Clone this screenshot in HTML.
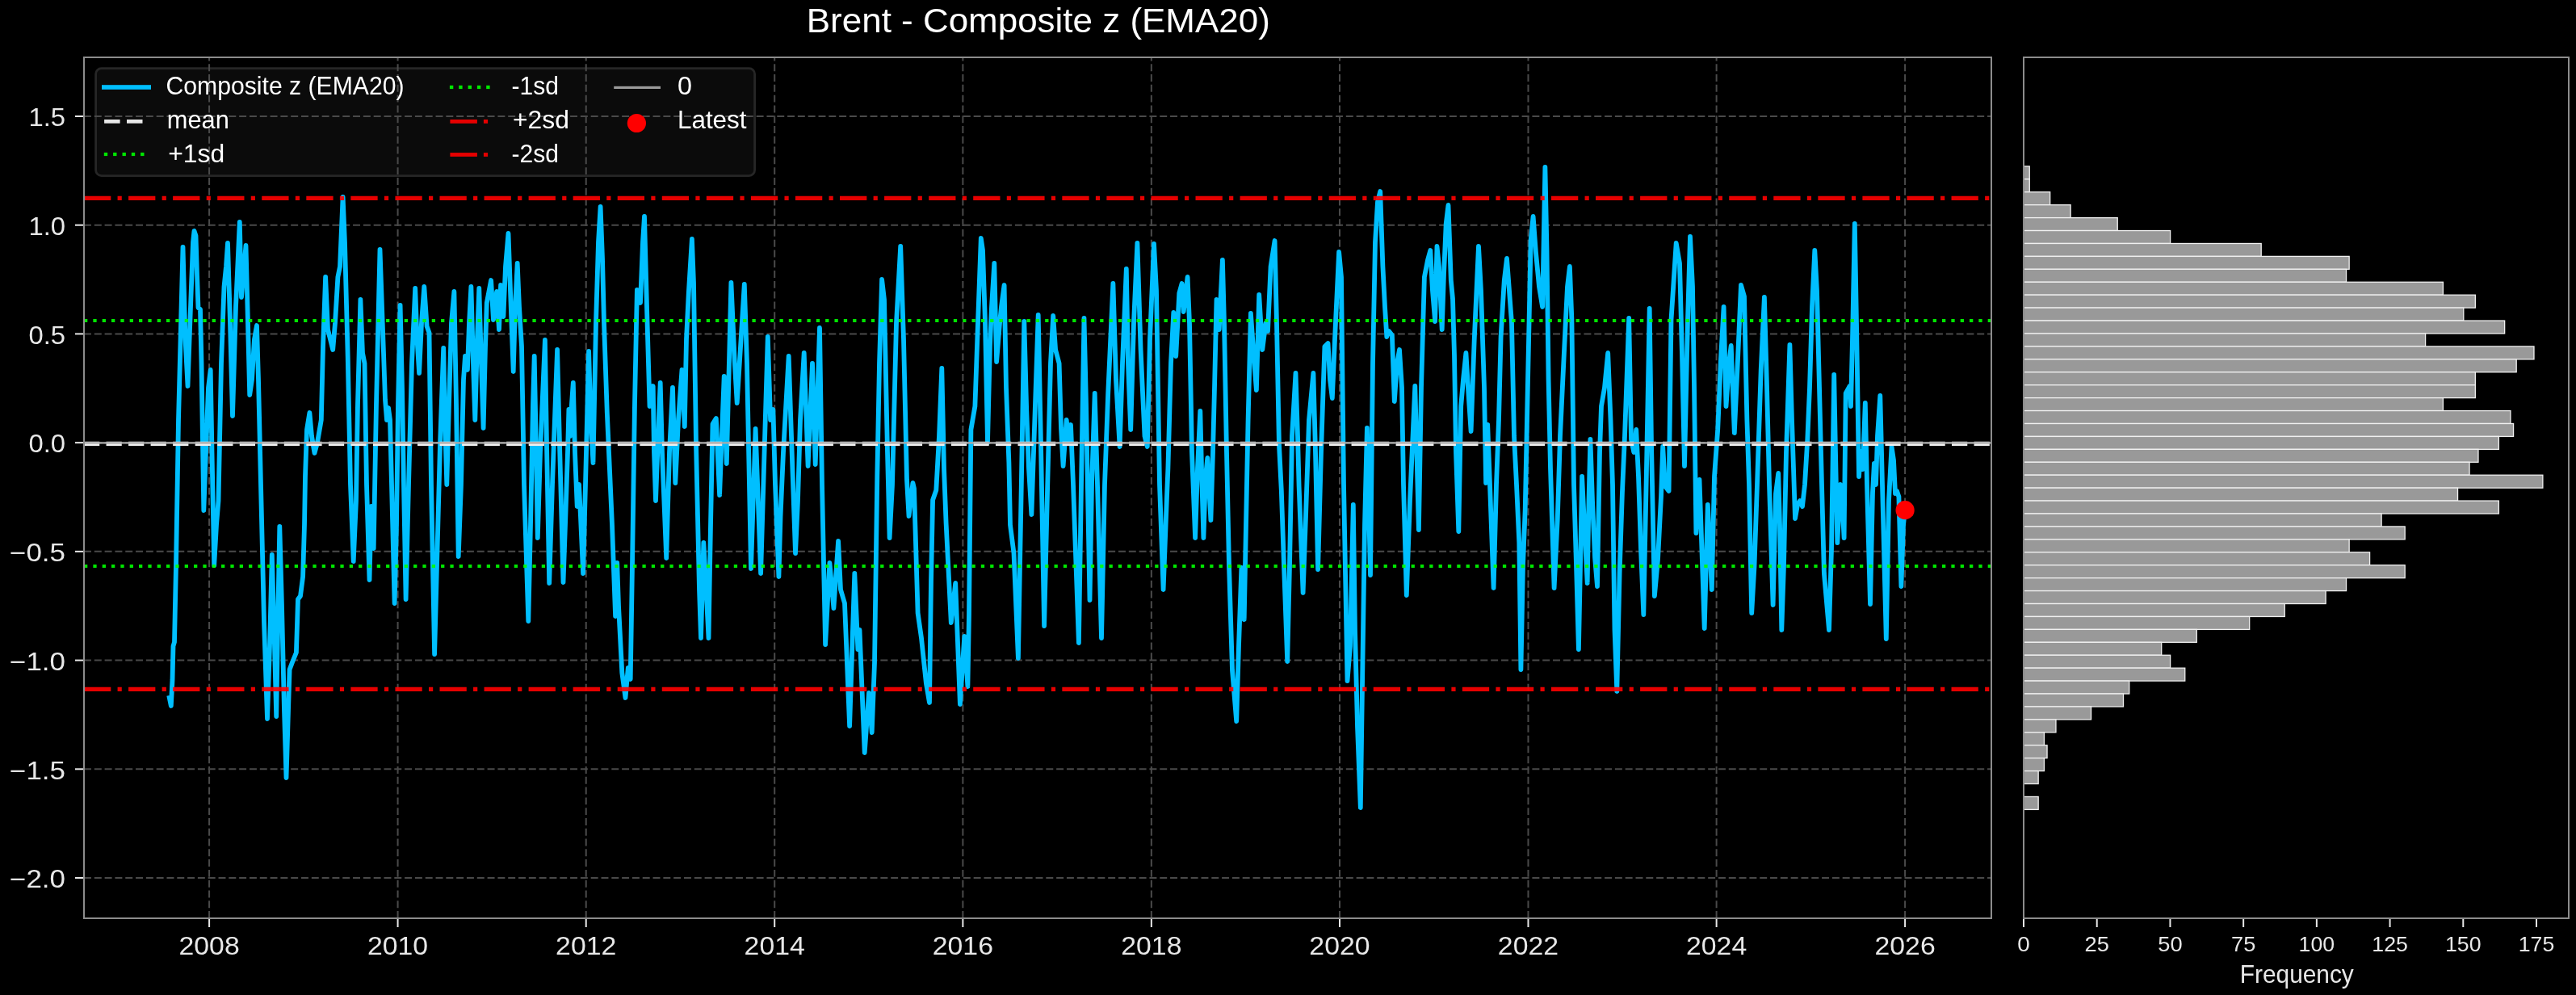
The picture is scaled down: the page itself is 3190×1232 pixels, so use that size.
<!DOCTYPE html><html><head><meta charset="utf-8"><style>html,body{margin:0;padding:0;background:#000;overflow:hidden}svg{display:block;will-change:transform}text{font-family:"Liberation Sans",sans-serif}</style></head><body>
<svg width="3190" height="1232" viewBox="0 0 3190 1232">
<rect width="3190" height="1232" fill="#000"/>
<text x="998.8" y="40.1" font-size="43.3" fill="#fff" textLength="574" lengthAdjust="spacingAndGlyphs">Brent - Composite z (EMA20)</text>
<rect x="118.6" y="84.6" width="816" height="133" rx="7" fill="#0b0b0b" stroke="#262626" stroke-width="2.8"/>
<g stroke="#4a4a4a" stroke-width="2"><line x1="259.10" y1="1137" x2="259.10" y2="71" stroke-dasharray="8.93 3.86"/><line x1="492.58" y1="1137" x2="492.58" y2="71" stroke-dasharray="8.93 3.86"/><line x1="725.73" y1="1137" x2="725.73" y2="71" stroke-dasharray="8.93 3.86"/><line x1="959.21" y1="1137" x2="959.21" y2="71" stroke-dasharray="8.93 3.86"/><line x1="1192.36" y1="1137" x2="1192.36" y2="71" stroke-dasharray="8.93 3.86"/><line x1="1425.84" y1="1137" x2="1425.84" y2="71" stroke-dasharray="8.93 3.86"/><line x1="1658.99" y1="1137" x2="1658.99" y2="71" stroke-dasharray="8.93 3.86"/><line x1="1892.47" y1="1137" x2="1892.47" y2="71" stroke-dasharray="8.93 3.86"/><line x1="2125.62" y1="1137" x2="2125.62" y2="71" stroke-dasharray="8.93 3.86"/><line x1="2359.10" y1="1137" x2="2359.10" y2="71" stroke-dasharray="8.93 3.86"/><line x1="104" y1="144.00" x2="2466" y2="144.00" stroke-dasharray="8.95 3.86"/><line x1="104" y1="278.72" x2="2466" y2="278.72" stroke-dasharray="8.95 3.86"/><line x1="104" y1="413.43" x2="2466" y2="413.43" stroke-dasharray="8.95 3.86"/><line x1="104" y1="548.14" x2="2466" y2="548.14" stroke-dasharray="8.95 3.86"/><line x1="104" y1="682.86" x2="2466" y2="682.86" stroke-dasharray="8.95 3.86"/><line x1="104" y1="817.58" x2="2466" y2="817.58" stroke-dasharray="8.95 3.86"/><line x1="104" y1="952.29" x2="2466" y2="952.29" stroke-dasharray="8.95 3.86"/><line x1="104" y1="1087.01" x2="2466" y2="1087.01" stroke-dasharray="8.95 3.86"/></g>
<path d="M209.8 864.0 L211.8 874.0 L213.5 842.0 L214.5 800.0 L216.0 795.0 L218.0 700.0 L221.0 520.0 L226.5 306.0 L229.5 420.0 L232.5 478.0 L236.0 380.0 L239.0 300.0 L240.5 286.0 L242.5 292.0 L244.0 340.0 L245.5 381.0 L248.0 383.0 L249.5 450.0 L252.3 632.0 L255.0 560.0 L258.0 480.0 L260.7 458.0 L262.5 560.0 L265.2 700.0 L268.0 650.0 L270.5 620.0 L274.0 450.0 L277.5 355.0 L280.0 330.0 L282.0 301.0 L285.0 400.0 L288.0 515.0 L292.0 380.0 L296.8 275.0 L299.0 368.0 L304.5 304.0 L307.0 400.0 L309.2 489.0 L312.0 470.0 L315.0 420.0 L318.0 403.0 L320.0 470.0 L323.0 600.0 L327.0 770.0 L331.0 890.0 L334.0 800.0 L336.8 687.0 L339.5 780.0 L342.2 887.0 L344.5 750.0 L346.3 652.0 L349.0 750.0 L352.0 880.0 L354.5 963.0 L357.0 880.0 L358.6 829.0 L362.0 820.0 L366.9 808.0 L369.0 742.0 L372.0 738.0 L375.1 714.0 L377.0 650.0 L378.0 590.0 L379.0 560.0 L380.0 532.0 L383.4 511.0 L386.0 540.0 L389.5 561.0 L393.0 548.0 L397.8 520.0 L400.0 430.0 L403.1 343.0 L406.0 408.0 L409.0 420.0 L412.2 433.0 L415.0 400.0 L418.4 343.0 L421.0 330.0 L424.6 244.0 L427.0 300.0 L430.7 441.0 L434.0 600.0 L437.7 695.0 L441.0 620.0 L443.0 500.0 L446.4 371.0 L449.0 437.0 L451.5 450.0 L454.0 600.0 L457.5 718.0 L459.8 627.0 L462.7 679.0 L466.0 500.0 L470.5 309.0 L473.0 380.0 L475.0 437.0 L477.0 495.0 L479.0 520.0 L481.0 505.0 L483.0 520.0 L485.0 600.0 L488.6 747.0 L491.0 650.0 L493.0 500.0 L495.6 378.0 L498.0 480.0 L500.0 600.0 L502.6 742.0 L506.0 600.0 L510.0 450.0 L514.2 357.0 L516.5 420.0 L519.1 462.0 L522.0 400.0 L525.3 355.0 L528.6 404.0 L531.5 412.0 L534.0 600.0 L538.1 810.0 L541.0 700.0 L545.0 550.0 L549.2 431.0 L551.0 520.0 L553.3 600.0 L556.0 500.0 L559.0 400.0 L562.4 361.0 L565.0 500.0 L567.7 689.0 L571.0 600.0 L574.0 470.0 L576.0 441.0 L578.9 458.0 L581.0 400.0 L583.4 355.0 L586.0 450.0 L588.3 520.0 L591.0 420.0 L593.3 357.0 L596.0 450.0 L598.6 530.0 L601.0 430.0 L602.8 375.0 L608.1 347.0 L611.0 396.0 L615.1 361.0 L618.0 408.0 L620.1 353.0 L623.4 392.0 L626.0 330.0 L629.5 289.0 L632.0 360.0 L635.7 460.0 L638.0 380.0 L640.7 326.0 L643.0 380.0 L646.0 429.0 L649.0 600.0 L654.3 769.0 L657.0 650.0 L660.0 500.0 L661.7 441.0 L664.0 560.0 L665.8 666.0 L669.0 560.0 L674.9 421.0 L677.0 550.0 L680.2 722.0 L684.0 600.0 L690.1 433.0 L693.0 550.0 L697.5 721.0 L700.0 650.0 L703.0 560.0 L704.4 507.0 L706.0 540.0 L708.0 500.0 L709.8 474.0 L712.0 560.0 L714.7 627.0 L717.0 600.0 L719.0 640.0 L722.1 710.0 L725.0 600.0 L729.1 435.0 L731.5 520.0 L734.5 573.0 L738.0 400.0 L741.0 300.0 L743.6 256.0 L746.0 320.0 L748.0 400.0 L751.8 511.0 L754.0 560.0 L758.0 650.0 L762.1 763.0 L764.2 697.0 L766.0 750.0 L770.3 833.0 L774.5 864.0 L777.8 827.0 L780.7 841.0 L783.0 700.0 L786.0 500.0 L788.9 359.0 L793.0 375.0 L796.0 300.0 L798.0 268.0 L801.0 380.0 L804.5 503.0 L808.7 478.0 L810.0 560.0 L812.0 620.0 L815.0 540.0 L817.7 474.0 L820.0 560.0 L825.2 691.0 L829.0 560.0 L833.0 480.0 L836.3 598.0 L840.0 520.0 L844.5 458.0 L847.8 528.0 L850.0 420.0 L852.8 363.0 L856.9 296.0 L859.0 350.0 L862.0 550.0 L866.0 730.0 L868.0 790.0 L871.3 672.0 L874.0 720.0 L877.5 790.0 L880.0 650.0 L882.5 525.0 L886.8 518.0 L891.1 613.0 L896.7 466.0 L899.8 574.0 L905.4 350.0 L909.7 447.0 L912.7 499.0 L916.2 443.0 L921.8 352.0 L925.0 450.0 L930.0 704.0 L935.6 531.0 L942.1 710.0 L950.8 417.0 L954.1 520.0 L957.4 507.0 L960.0 600.0 L964.4 714.0 L966.5 640.0 L970.0 560.0 L976.7 441.0 L980.0 540.0 L985.0 685.0 L988.0 620.0 L991.0 520.0 L995.7 437.0 L1000.6 577.0 L1006.0 450.0 L1009.7 575.0 L1015.0 406.0 L1018.0 600.0 L1022.1 798.0 L1027.4 697.0 L1032.4 753.0 L1038.1 670.0 L1041.0 730.0 L1046.0 747.0 L1052.1 899.0 L1058.3 710.0 L1062.4 804.0 L1064.5 780.0 L1070.7 932.0 L1076.0 858.0 L1079.7 907.0 L1083.0 821.0 L1086.3 590.0 L1089.0 450.0 L1092.1 346.0 L1095.0 371.0 L1099.0 560.0 L1101.6 666.0 L1105.0 600.0 L1110.0 400.0 L1115.2 305.0 L1119.0 420.0 L1123.0 594.0 L1125.5 639.0 L1130.4 598.0 L1132.0 605.0 L1136.6 759.0 L1141.0 790.0 L1146.9 846.0 L1151.0 870.0 L1153.0 720.0 L1155.1 619.0 L1159.3 607.0 L1163.0 540.0 L1166.3 456.0 L1169.0 580.0 L1171.6 648.0 L1177.8 771.0 L1183.2 722.0 L1188.9 872.0 L1194.3 788.0 L1198.4 850.0 L1200.0 760.0 L1202.4 532.0 L1207.4 503.0 L1211.0 400.0 L1214.8 295.0 L1217.0 310.0 L1220.0 400.0 L1223.0 548.0 L1225.9 429.0 L1228.0 380.0 L1231.3 326.0 L1234.1 448.0 L1238.0 400.0 L1240.0 380.0 L1243.6 353.0 L1246.0 480.0 L1249.4 573.0 L1251.0 650.0 L1255.5 685.0 L1260.9 815.0 L1263.0 700.0 L1265.0 590.0 L1268.3 398.0 L1271.2 507.0 L1274.0 580.0 L1277.4 637.0 L1280.0 560.0 L1285.7 390.0 L1289.0 550.0 L1293.1 775.0 L1297.0 610.0 L1301.0 450.0 L1304.2 391.0 L1307.1 433.0 L1311.6 450.0 L1314.0 530.0 L1316.6 577.0 L1320.7 520.0 L1323.0 545.0 L1326.0 526.0 L1329.0 600.0 L1335.9 796.0 L1339.0 600.0 L1342.5 394.0 L1345.0 500.0 L1349.5 743.0 L1352.0 600.0 L1355.7 487.0 L1359.0 600.0 L1364.0 790.0 L1368.0 600.0 L1372.2 487.0 L1378.4 351.0 L1382.0 470.0 L1386.6 553.0 L1390.0 450.0 L1394.8 333.0 L1397.0 450.0 L1400.2 532.0 L1404.0 400.0 L1408.4 301.0 L1412.6 433.0 L1417.5 540.0 L1420.8 553.0 L1424.0 420.0 L1429.0 302.0 L1432.0 360.0 L1436.0 600.0 L1440.6 730.0 L1444.0 640.0 L1446.4 580.0 L1450.0 450.0 L1453.3 387.0 L1456.2 441.0 L1460.3 363.0 L1463.6 351.0 L1465.7 386.0 L1470.6 343.0 L1473.0 400.0 L1476.0 560.0 L1480.1 666.0 L1483.0 580.0 L1486.3 509.0 L1488.5 600.0 L1490.4 666.0 L1493.0 590.0 L1495.3 567.0 L1497.0 600.0 L1499.4 644.0 L1502.0 560.0 L1504.0 480.0 L1506.5 371.0 L1509.7 408.0 L1513.9 322.0 L1516.0 400.0 L1519.0 560.0 L1522.0 700.0 L1526.0 830.0 L1531.2 893.0 L1534.0 800.0 L1537.4 703.0 L1540.7 767.0 L1543.0 650.0 L1545.6 520.0 L1548.9 388.0 L1553.0 446.0 L1555.9 483.0 L1559.2 365.0 L1563.3 433.0 L1567.4 400.0 L1570.0 410.0 L1573.6 330.0 L1578.6 298.0 L1581.0 400.0 L1583.9 549.0 L1586.8 607.0 L1590.0 700.0 L1594.2 819.0 L1597.0 700.0 L1600.0 540.0 L1604.5 462.0 L1607.0 540.0 L1608.6 602.0 L1613.6 734.0 L1617.0 640.0 L1621.0 520.0 L1626.4 462.0 L1629.0 560.0 L1632.1 705.0 L1636.0 560.0 L1640.4 429.0 L1644.5 425.0 L1647.0 470.0 L1649.8 493.0 L1653.0 420.0 L1658.1 312.0 L1661.0 343.0 L1664.0 600.0 L1668.5 843.0 L1672.0 800.0 L1675.8 625.0 L1678.0 780.0 L1681.0 900.0 L1684.8 1000.0 L1687.0 850.0 L1690.0 650.0 L1692.9 530.0 L1697.0 712.0 L1700.0 450.0 L1703.0 300.0 L1706.0 250.0 L1709.2 237.0 L1712.4 330.0 L1715.0 380.0 L1717.3 417.0 L1720.0 410.0 L1723.9 415.0 L1726.8 497.0 L1730.0 450.0 L1733.0 433.0 L1736.0 480.0 L1738.0 600.0 L1741.8 737.0 L1746.0 620.0 L1752.3 478.0 L1756.9 656.0 L1760.0 480.0 L1763.9 343.0 L1768.0 322.0 L1771.3 310.0 L1774.0 360.0 L1777.1 398.0 L1779.5 305.0 L1782.0 330.0 L1785.7 408.0 L1788.0 340.0 L1790.7 277.0 L1793.5 254.0 L1796.8 347.0 L1799.0 370.0 L1801.0 440.0 L1803.0 560.0 L1806.3 658.0 L1809.2 503.0 L1812.0 470.0 L1815.4 437.0 L1818.0 480.0 L1821.6 534.0 L1825.7 421.0 L1831.0 305.0 L1834.0 360.0 L1838.0 480.0 L1840.1 598.0 L1842.2 526.0 L1845.0 600.0 L1849.6 728.0 L1853.0 600.0 L1856.0 520.0 L1858.6 417.0 L1862.8 347.0 L1866.0 320.0 L1869.0 360.0 L1872.0 400.0 L1875.0 540.0 L1878.0 600.0 L1881.3 672.0 L1883.4 829.0 L1886.0 700.0 L1888.7 631.0 L1891.0 520.0 L1895.7 297.0 L1898.6 268.0 L1901.9 312.0 L1906.0 355.0 L1910.1 380.0 L1913.4 207.0 L1915.5 310.0 L1917.6 470.0 L1920.0 580.0 L1924.6 728.0 L1928.7 644.0 L1932.0 540.0 L1936.9 437.0 L1941.0 355.0 L1943.9 330.0 L1946.4 396.0 L1949.0 600.0 L1952.0 700.0 L1954.9 804.0 L1957.0 700.0 L1959.1 590.0 L1962.0 650.0 L1965.7 722.0 L1967.5 620.0 L1969.4 544.0 L1972.0 620.0 L1975.0 690.0 L1978.0 726.0 L1981.0 560.0 L1983.0 503.0 L1987.0 480.0 L1991.2 437.0 L1994.5 520.0 L1997.0 600.0 L1999.5 780.0 L2002.3 856.0 L2005.6 710.0 L2008.9 611.0 L2012.0 540.0 L2017.2 394.0 L2020.0 544.0 L2023.3 560.0 L2026.2 532.0 L2029.0 590.0 L2032.0 680.0 L2035.3 761.0 L2038.6 600.0 L2042.7 382.0 L2045.0 550.0 L2048.9 738.0 L2053.0 693.0 L2057.0 615.0 L2059.2 553.0 L2062.0 602.0 L2066.6 608.0 L2069.5 396.0 L2075.7 301.0 L2080.0 326.0 L2083.0 440.0 L2086.0 577.0 L2090.0 396.0 L2093.0 293.0 L2096.0 355.0 L2098.0 478.0 L2100.4 660.0 L2104.5 594.0 L2106.5 652.0 L2110.7 778.0 L2114.8 625.0 L2119.8 730.0 L2123.0 590.0 L2127.2 532.0 L2131.0 445.0 L2134.6 380.0 L2137.5 503.0 L2141.6 445.0 L2143.7 428.0 L2147.8 536.0 L2152.0 445.0 L2156.0 353.0 L2160.0 367.0 L2163.4 520.0 L2166.0 600.0 L2169.2 759.0 L2172.5 701.0 L2176.0 600.0 L2180.7 458.0 L2184.9 368.0 L2188.0 478.0 L2191.0 600.0 L2195.6 749.0 L2199.0 611.0 L2202.2 586.0 L2204.0 650.0 L2206.3 780.0 L2209.0 700.0 L2212.0 560.0 L2216.4 427.0 L2219.0 520.0 L2221.0 580.0 L2223.0 642.0 L2226.0 625.0 L2229.0 620.0 L2232.0 627.0 L2235.0 600.0 L2238.3 544.0 L2241.0 480.0 L2244.0 380.0 L2247.3 310.0 L2250.0 360.0 L2253.0 480.0 L2256.0 600.0 L2258.9 710.0 L2265.0 780.0 L2268.0 680.0 L2271.2 464.0 L2273.0 560.0 L2275.3 672.0 L2279.0 600.0 L2281.0 615.0 L2283.6 666.0 L2285.7 487.0 L2290.6 478.0 L2292.0 503.0 L2294.0 420.0 L2296.8 277.0 L2299.0 400.0 L2302.0 590.0 L2304.2 559.0 L2306.8 581.0 L2309.8 499.0 L2312.0 600.0 L2316.0 748.0 L2319.0 610.0 L2320.9 574.0 L2323.0 600.0 L2325.0 540.0 L2328.3 490.0 L2331.0 600.0 L2335.8 791.0 L2339.0 620.0 L2342.5 553.0 L2345.0 570.0 L2347.0 611.0 L2349.0 608.0 L2351.4 615.0 L2354.4 726.0 L2357.0 650.0 L2359.0 631.0" fill="none" stroke="#00bfff" stroke-width="5.8" stroke-linejoin="round" stroke-linecap="square"/>
<line x1="104" y1="549.4" x2="2466" y2="549.4" stroke="#f0f0f0" stroke-width="5.2" stroke-dasharray="19.24 8.296"/>
<line x1="104" y1="397.0" x2="2466" y2="397.0" stroke="#00ff00" stroke-opacity="0.9" stroke-width="4.2" stroke-dasharray="4.3 7.035"/>
<line x1="104" y1="701.0" x2="2466" y2="701.0" stroke="#00ff00" stroke-opacity="0.9" stroke-width="4.2" stroke-dasharray="4.3 7.035"/>
<line x1="104" y1="245.4" x2="2466" y2="245.4" stroke="#ff0000" stroke-opacity="0.9" stroke-width="5.2" stroke-dasharray="33.3 8.28 5.2 8.28"/>
<line x1="104" y1="853.4" x2="2466" y2="853.4" stroke="#ff0000" stroke-opacity="0.9" stroke-width="5.2" stroke-dasharray="33.3 8.28 5.2 8.28"/>
<line x1="104" y1="548.3" x2="2466" y2="548.3" stroke="#a9a9a9" stroke-opacity="0.85" stroke-width="2.8"/>
<circle cx="2359.10" cy="631.67" r="11.6" fill="#ff0000"/>
<rect x="104" y="71" width="2362" height="1066" fill="none" stroke="#8c8c8c" stroke-width="2"/>
<g stroke="#e8e8e8" stroke-width="2"><line x1="259.10" y1="1138" x2="259.10" y2="1148"/><line x1="492.58" y1="1138" x2="492.58" y2="1148"/><line x1="725.73" y1="1138" x2="725.73" y2="1148"/><line x1="959.21" y1="1138" x2="959.21" y2="1148"/><line x1="1192.36" y1="1138" x2="1192.36" y2="1148"/><line x1="1425.84" y1="1138" x2="1425.84" y2="1148"/><line x1="1658.99" y1="1138" x2="1658.99" y2="1148"/><line x1="1892.47" y1="1138" x2="1892.47" y2="1148"/><line x1="2125.62" y1="1138" x2="2125.62" y2="1148"/><line x1="2359.10" y1="1138" x2="2359.10" y2="1148"/><line x1="103" y1="144.00" x2="93" y2="144.00"/><line x1="103" y1="278.72" x2="93" y2="278.72"/><line x1="103" y1="413.43" x2="93" y2="413.43"/><line x1="103" y1="548.14" x2="93" y2="548.14"/><line x1="103" y1="682.86" x2="93" y2="682.86"/><line x1="103" y1="817.58" x2="93" y2="817.58"/><line x1="103" y1="952.29" x2="93" y2="952.29"/><line x1="103" y1="1087.01" x2="93" y2="1087.01"/><line x1="2506.00" y1="1138" x2="2506.00" y2="1148"/><line x1="2596.72" y1="1138" x2="2596.72" y2="1148"/><line x1="2687.43" y1="1138" x2="2687.43" y2="1148"/><line x1="2778.14" y1="1138" x2="2778.14" y2="1148"/><line x1="2868.86" y1="1138" x2="2868.86" y2="1148"/><line x1="2959.57" y1="1138" x2="2959.57" y2="1148"/><line x1="3050.29" y1="1138" x2="3050.29" y2="1148"/><line x1="3141.01" y1="1138" x2="3141.01" y2="1148"/></g>
<g fill="#e8e8e8" font-size="30.6"><text x="221.50" y="1181.6" textLength="75.2" lengthAdjust="spacingAndGlyphs">2008</text><text x="454.98" y="1181.6" textLength="75.2" lengthAdjust="spacingAndGlyphs">2010</text><text x="688.13" y="1181.6" textLength="75.2" lengthAdjust="spacingAndGlyphs">2012</text><text x="921.61" y="1181.6" textLength="75.2" lengthAdjust="spacingAndGlyphs">2014</text><text x="1154.76" y="1181.6" textLength="75.2" lengthAdjust="spacingAndGlyphs">2016</text><text x="1388.24" y="1181.6" textLength="75.2" lengthAdjust="spacingAndGlyphs">2018</text><text x="1621.39" y="1181.6" textLength="75.2" lengthAdjust="spacingAndGlyphs">2020</text><text x="1854.87" y="1181.6" textLength="75.2" lengthAdjust="spacingAndGlyphs">2022</text><text x="2088.02" y="1181.6" textLength="75.2" lengthAdjust="spacingAndGlyphs">2024</text><text x="2321.50" y="1181.6" textLength="75.2" lengthAdjust="spacingAndGlyphs">2026</text><text x="35.40" y="156.30" textLength="45.6" lengthAdjust="spacingAndGlyphs">1.5</text><text x="35.40" y="291.02" textLength="45.6" lengthAdjust="spacingAndGlyphs">1.0</text><text x="35.40" y="425.73" textLength="45.6" lengthAdjust="spacingAndGlyphs">0.5</text><text x="35.40" y="560.44" textLength="45.6" lengthAdjust="spacingAndGlyphs">0.0</text><text x="12.00" y="695.16" textLength="69.0" lengthAdjust="spacingAndGlyphs">−0.5</text><text x="12.00" y="829.88" textLength="69.0" lengthAdjust="spacingAndGlyphs">−1.0</text><text x="12.00" y="964.59" textLength="69.0" lengthAdjust="spacingAndGlyphs">−1.5</text><text x="12.00" y="1099.31" textLength="69.0" lengthAdjust="spacingAndGlyphs">−2.0</text></g>
<g fill="#e8e8e8" font-size="25"><text x="2498.25" y="1177.8" textLength="15.5" lengthAdjust="spacingAndGlyphs">0</text><text x="2581.57" y="1177.8" textLength="30.3" lengthAdjust="spacingAndGlyphs">25</text><text x="2672.28" y="1177.8" textLength="30.3" lengthAdjust="spacingAndGlyphs">50</text><text x="2762.99" y="1177.8" textLength="30.3" lengthAdjust="spacingAndGlyphs">75</text><text x="2846.61" y="1177.8" textLength="44.5" lengthAdjust="spacingAndGlyphs">100</text><text x="2937.32" y="1177.8" textLength="44.5" lengthAdjust="spacingAndGlyphs">125</text><text x="3028.04" y="1177.8" textLength="44.5" lengthAdjust="spacingAndGlyphs">150</text><text x="3118.76" y="1177.8" textLength="44.5" lengthAdjust="spacingAndGlyphs">175</text></g>
<text x="2773.8" y="1217.2" fill="#e8e8e8" font-size="30.7" textLength="141" lengthAdjust="spacingAndGlyphs">Frequency</text>
<g fill="#999999" stroke="#f0f0f0" stroke-width="1.3"><rect x="2506" y="205.90" width="7.26" height="15.93"/><rect x="2506" y="221.83" width="7.26" height="15.93"/><rect x="2506" y="237.76" width="32.69" height="15.93"/><rect x="2506" y="253.69" width="58.11" height="15.93"/><rect x="2506" y="269.62" width="116.22" height="15.93"/><rect x="2506" y="285.55" width="181.60" height="15.93"/><rect x="2506" y="301.48" width="294.19" height="15.93"/><rect x="2506" y="317.41" width="403.15" height="15.93"/><rect x="2506" y="333.34" width="399.52" height="15.93"/><rect x="2506" y="349.27" width="519.38" height="15.93"/><rect x="2506" y="365.20" width="559.33" height="15.93"/><rect x="2506" y="381.13" width="544.80" height="15.93"/><rect x="2506" y="397.06" width="595.65" height="15.93"/><rect x="2506" y="412.99" width="497.58" height="15.93"/><rect x="2506" y="428.92" width="631.97" height="15.93"/><rect x="2506" y="444.85" width="610.18" height="15.93"/><rect x="2506" y="460.78" width="559.33" height="15.93"/><rect x="2506" y="476.71" width="559.33" height="15.93"/><rect x="2506" y="492.64" width="519.38" height="15.93"/><rect x="2506" y="508.57" width="602.91" height="15.93"/><rect x="2506" y="524.50" width="606.54" height="15.93"/><rect x="2506" y="540.43" width="588.38" height="15.93"/><rect x="2506" y="556.36" width="562.96" height="15.93"/><rect x="2506" y="572.29" width="552.06" height="15.93"/><rect x="2506" y="588.22" width="642.86" height="15.93"/><rect x="2506" y="604.15" width="537.54" height="15.93"/><rect x="2506" y="620.08" width="588.38" height="15.93"/><rect x="2506" y="636.01" width="443.10" height="15.93"/><rect x="2506" y="651.94" width="472.16" height="15.93"/><rect x="2506" y="667.87" width="403.15" height="15.93"/><rect x="2506" y="683.80" width="428.58" height="15.93"/><rect x="2506" y="699.73" width="472.16" height="15.93"/><rect x="2506" y="715.66" width="399.52" height="15.93"/><rect x="2506" y="731.59" width="374.10" height="15.93"/><rect x="2506" y="747.52" width="323.25" height="15.93"/><rect x="2506" y="763.45" width="279.66" height="15.93"/><rect x="2506" y="779.38" width="214.29" height="15.93"/><rect x="2506" y="795.31" width="170.70" height="15.93"/><rect x="2506" y="811.24" width="181.60" height="15.93"/><rect x="2506" y="827.17" width="199.76" height="15.93"/><rect x="2506" y="843.10" width="130.75" height="15.93"/><rect x="2506" y="859.03" width="123.49" height="15.93"/><rect x="2506" y="874.96" width="83.54" height="15.93"/><rect x="2506" y="890.89" width="39.95" height="15.93"/><rect x="2506" y="906.82" width="25.42" height="15.93"/><rect x="2506" y="922.75" width="29.06" height="15.93"/><rect x="2506" y="938.68" width="25.42" height="15.93"/><rect x="2506" y="954.61" width="18.16" height="15.93"/><rect x="2506" y="986.47" width="18.16" height="15.93"/></g>
<rect x="2506" y="71" width="675" height="1066" fill="none" stroke="#8c8c8c" stroke-width="2"/>
<rect x="126" y="105.2" width="61" height="5.6" fill="#00bfff"/><rect x="129.1" y="148.0" width="19.5" height="4.7" fill="#e8e8e8"/><rect x="157.0" y="148.0" width="19.5" height="4.7" fill="#e8e8e8"/><rect x="128.8" y="188.9" width="4.4" height="4.2" fill="#00e600"/><rect x="140.1" y="188.9" width="4.4" height="4.2" fill="#00e600"/><rect x="151.5" y="188.9" width="4.4" height="4.2" fill="#00e600"/><rect x="162.8" y="188.9" width="4.4" height="4.2" fill="#00e600"/><rect x="174.1" y="188.9" width="4.4" height="4.2" fill="#00e600"/><rect x="556.9" y="105.8" width="4.4" height="4.3" fill="#00e600"/><rect x="568.2" y="105.8" width="4.4" height="4.3" fill="#00e600"/><rect x="579.6" y="105.8" width="4.4" height="4.3" fill="#00e600"/><rect x="590.9" y="105.8" width="4.4" height="4.3" fill="#00e600"/><rect x="602.2" y="105.8" width="4.4" height="4.3" fill="#00e600"/><rect x="557.4" y="148.0" width="33.5" height="4.8" fill="#e60000"/><rect x="598.9" y="148.0" width="5.2" height="4.8" fill="#e60000"/><rect x="557.4" y="189.1" width="33.5" height="4.8" fill="#e60000"/><rect x="598.9" y="189.1" width="5.2" height="4.8" fill="#e60000"/><rect x="760.2" y="106.8" width="57.8" height="3.2" fill="#9a9a9a"/><circle cx="788.4" cy="152.5" r="11.6" fill="#ff0000"/>
<g fill="#ffffff" font-size="30.7"><text x="205.5" y="117.2" textLength="295" lengthAdjust="spacingAndGlyphs">Composite z (EMA20)</text><text x="206.8" y="158.9" textLength="77" lengthAdjust="spacingAndGlyphs">mean</text><text x="208.2" y="200.9" textLength="70" lengthAdjust="spacingAndGlyphs">+1sd</text><text x="633.6" y="117.2" textLength="58.5" lengthAdjust="spacingAndGlyphs">-1sd</text><text x="635.0" y="158.9" textLength="70" lengthAdjust="spacingAndGlyphs">+2sd</text><text x="633.6" y="200.9" textLength="58.5" lengthAdjust="spacingAndGlyphs">-2sd</text><text x="839" y="117.2" textLength="18" lengthAdjust="spacingAndGlyphs">0</text><text x="839" y="158.9" textLength="85.5" lengthAdjust="spacingAndGlyphs">Latest</text></g>
</svg></body></html>
